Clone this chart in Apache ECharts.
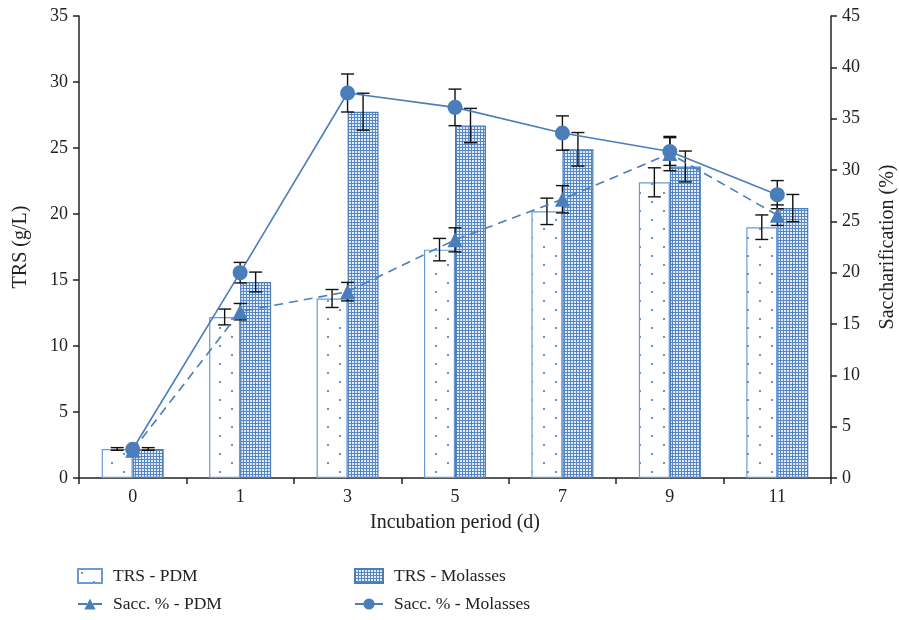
<!DOCTYPE html>
<html><head><meta charset="utf-8">
<script src="https://cdn.jsdelivr.net/npm/echarts@6/dist/echarts.min.js"></script>
<style>html,body{margin:0;padding:0;background:#fff}#c{width:899px;height:620px}</style>
</head><body><div id="c"></div>
<script>
const categories = ['0','1','3','5','7','9','11'];
const trsPDM = [2.2, 12.2, 13.6, 17.3, 20.2, 22.4, 19.0];
const trsPDMErr = [0.1, 0.6, 0.68, 0.85, 1.0, 1.1, 0.93];
const trsMol = [2.2, 14.85, 27.75, 26.7, 24.9, 23.6, 20.45];
const trsMolErr = [0.1, 0.75, 1.4, 1.3, 1.27, 1.17, 1.03];
const saccPDM = [2.7, 16.2, 18.15, 23.2, 27.15, 31.6, 25.6];
const saccPDMErr = [0.2, 0.8, 0.9, 1.17, 1.33, 1.67, 1.0];
const saccMol = [2.8, 20.0, 37.5, 36.1, 33.6, 31.8, 27.6];
const saccMolErr = [0.2, 1.0, 1.85, 1.78, 1.67, 1.35, 1.37];
const leftTicks = {min:0, max:35, interval:5};
const rightTicks = {min:0, max:45, interval:5};

const BLUE = '#4a7ebb';
const FONT = '"Liberation Serif", "DejaVu Serif", serif';

function dotPattern(){
  const c = document.createElement('canvas'); c.width = 24; c.height = 18;
  const x = c.getContext('2d');
  x.fillStyle = '#ffffff'; x.fillRect(0,0,24,18);
  x.fillStyle = '#4a7ebb';
  [[4,4],[16,13]].forEach(p=>{x.beginPath();x.arc(p[0],p[1],1.1,0,Math.PI*2);x.fill();});
  return c;
}
function hatchPattern(){
  const c = document.createElement('canvas'); c.width = 3; c.height = 3;
  const x = c.getContext('2d');
  x.fillStyle = '#5587c6'; x.fillRect(0,0,3,3);
  x.fillStyle = '#e4ecf7'; x.fillRect(1,1,2,2);
  return c;
}

function errRender(offset){
  return function(params, api){
    const i = api.value(0), v = api.value(1), e = api.value(2);
    const t = api.coord([i, v + e]);
    const b = api.coord([i, v - e]);
    const x = t[0] + offset;
    const w = 6.5;
    const st = {stroke:'#111', lineWidth:1.4};
    return {type:'group', children:[
      {type:'line', shape:{x1:x,y1:t[1],x2:x,y2:b[1]}, style:st},
      {type:'line', shape:{x1:x-w,y1:t[1],x2:x+w,y2:t[1]}, style:st},
      {type:'line', shape:{x1:x-w,y1:b[1],x2:x+w,y2:b[1]}, style:st}
    ]};
  };
}
function errData(vals, errs){ return vals.map((v,i)=>[i, v, errs[i]]); }

const chart = echarts.init(document.getElementById('c'), null, {renderer:'canvas'});
const axisLabelStyle = {color:'#222', fontSize:18, fontFamily:FONT};
const nameStyle = {color:'#222', fontSize:20, fontFamily:FONT};
const legendText = {color:'#222', fontSize:17.5, fontFamily:FONT, lineHeight:20};
chart.setOption({
  animation:false,
  textStyle:{fontFamily:FONT},
  grid:{left:79, right:68, top:16, bottom:142, containLabel:false, outerBoundsMode:'none'},
  legend:[
    {orient:'vertical', left:77, top:566, height:60, padding:0, itemGap:8, itemWidth:24, itemHeight:14,
     data:[{name:'TRS - PDM', icon:'rect'},{name:'Sacc. % - PDM'}],
     textStyle:Object.assign({padding:[0,0,0,6]}, legendText)},
    {orient:'vertical', left:354, top:566, height:60, padding:0, itemGap:8, itemWidth:28, itemHeight:14,
     data:[{name:'TRS - Molasses', icon:'rect'},{name:'Sacc. % - Molasses'}],
     textStyle:Object.assign({padding:[0,0,0,6]}, legendText)}
  ],
  xAxis:{type:'category', data:categories, boundaryGap:true,
    name:'Incubation period (d)', nameLocation:'middle', nameGap:35,
    nameTextStyle:nameStyle,
    axisLine:{lineStyle:{color:'#222', width:1.5}},
    axisTick:{show:true, length:6, alignWithLabel:false, lineStyle:{color:'#222', width:1.5}},
    axisLabel:Object.assign({margin:10}, axisLabelStyle), splitLine:{show:false}},
  yAxis:[
    Object.assign({type:'value', position:'left',
      name:'TRS (g/L)', nameLocation:'middle', nameGap:48, nameRotate:90,
      nameTextStyle:nameStyle,
      axisLine:{show:true, lineStyle:{color:'#222', width:1.5}},
      axisTick:{show:true, length:6, lineStyle:{color:'#222', width:1.5}},
      axisLabel:Object.assign({margin:11}, axisLabelStyle), splitLine:{show:false}}, leftTicks),
    Object.assign({type:'value', position:'right',
      name:'Saccharification (%)', nameLocation:'middle', nameGap:47, nameRotate:90,
      nameTextStyle:nameStyle,
      axisLine:{show:true, lineStyle:{color:'#222', width:1.5}},
      axisTick:{show:true, length:6, lineStyle:{color:'#222', width:1.5}},
      axisLabel:Object.assign({margin:11}, axisLabelStyle), splitLine:{show:false}}, rightTicks)
  ],
  series:[
    {name:'TRS - PDM', type:'bar', yAxisIndex:0, data:trsPDM, barWidth:31, barGap:'0%', z:2,
     itemStyle:{color:{image:dotPattern(), repeat:'repeat'}, borderColor:'#6b9ad6', borderWidth:1.2}},
    {name:'TRS - Molasses', type:'bar', yAxisIndex:0, data:trsMol, barWidth:31, barGap:'0%', z:2,
     itemStyle:{color:{image:hatchPattern(), repeat:'repeat'}, borderColor:BLUE, borderWidth:1.2}},
    {type:'custom', yAxisIndex:0, data:errData(trsPDM, trsPDMErr), renderItem:errRender(-15.5), z:3, clip:false, silent:true},
    {type:'custom', yAxisIndex:0, data:errData(trsMol, trsMolErr), renderItem:errRender(15.5), z:3, clip:false, silent:true},
    {type:'custom', yAxisIndex:1, data:errData(saccPDM, saccPDMErr), renderItem:errRender(0), z:3, clip:false, silent:true},
    {type:'custom', yAxisIndex:1, data:errData(saccMol, saccMolErr), renderItem:errRender(0), z:3, clip:false, silent:true},
    {name:'Sacc. % - PDM', type:'line', yAxisIndex:1, data:saccPDM, z:4,
     symbol:'triangle', symbolSize:15, showSymbol:true,
     lineStyle:{color:BLUE, width:1.6, type:[9,6]}, itemStyle:{color:BLUE}},
    {name:'Sacc. % - Molasses', type:'line', yAxisIndex:1, data:saccMol, z:5,
     symbol:'circle', symbolSize:15, showSymbol:true,
     lineStyle:{color:BLUE, width:1.6}, itemStyle:{color:BLUE}}
  ]
});
</script></body></html>
